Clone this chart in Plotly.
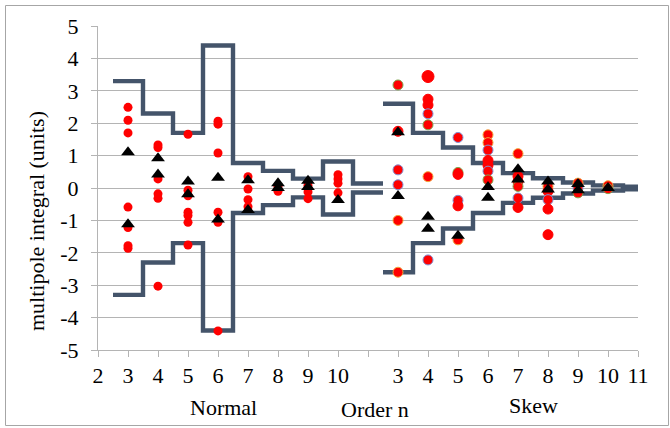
import plotly.graph_objects as go

# ---------------- data ----------------
tick_vals = list(range(2, 21))
tick_text = ["2", "3", "4", "5", "6", "7", "8", "9", "10", "",
             "3", "4", "5", "6", "7", "8", "9", "10", "11"]
y_tick_vals = [-5, -4, -3, -2, -1, 0, 1, 2, 3, 4, 5]
y_tick_text = ["-5", "-4", "-3", "-2", "-1", "0", "1", "2", "3", "4", "5"]
skew_offset = 9  # skew order n is drawn at n + 9

# tolerance band (half-width) per order
normal_band_orders = [3, 4, 5, 6, 7, 8, 9, 10, 11]
normal_band_limits = [3.3, 2.3, 1.7, 4.4, 0.77, 0.53, 0.29, 0.82, 0.14]
skew_band_orders = [3, 4, 5, 6, 7, 8, 9, 10, 11]
skew_band_limits = [2.6, 1.7, 1.25, 0.77, 0.46, 0.3, 0.17, 0.08, 0.04]

# measured normal multipoles (circles)
normal_pts_order = [3, 3, 3, 3, 3, 3, 3,
                    4, 4, 4, 4, 4, 4,
                    5, 5, 5, 5, 5, 5, 5,
                    6, 6, 6, 6, 6, 6,
                    7, 7, 7, 7,
                    8, 8,
                    9, 9, 9,
                    10, 10, 10, 10]
normal_pts_value = [2.49, 2.09, 1.70, -0.59, -1.22, -1.78, -1.86,
                    1.33, 1.25, 0.28, -0.18, -0.32, -3.03,
                    1.66, -0.07, -0.24, -0.75, -0.85, -1.06, -1.76,
                    2.06, 1.97, 1.08, -0.75, -1.06, -4.41,
                    0.35, -0.03, -0.36, -0.58,
                    0.05, -0.10,
                    0.08, -0.12, -0.33,
                    0.41, 0.28, 0.15, -0.15]

# reference normal multipoles (triangles)
normal_ref_order = [3, 3, 4, 4, 5, 5, 6, 6, 7, 7, 8, 8, 9, 9, 10]
normal_ref_value = [1.10, -1.12, 0.92, 0.42, 0.20, -0.19, 0.32, -0.97,
                    0.24, -0.68, 0.15, 0.0, 0.22, 0.03, -0.37]

# measured skew multipoles (circles) and the outline of each
skew_pts_order = [3, 3, 3, 3, 3, 3,
                  4, 4, 4, 4, 4, 4, 4,
                  5, 5, 5, 5, 5, 5,
                  6, 6, 6, 6, 6, 6, 6,
                  7, 7, 7, 7, 7, 7,
                  8, 8, 8, 8, 8,
                  9, 9, 9,
                  10, 10]
skew_pts_value = [3.18, 1.75, 0.56, 0.10, -1.00, -2.60,
                  3.44, 2.74, 2.56, 2.29, 1.95, 0.35, -2.22,
                  1.56, 0.48, 0.42, -0.38, -0.55, -1.60,
                  1.64, 1.40, 1.17, 0.85, 0.70, 0.52, 0.25,
                  1.06, 0.36, 0.20, 0.05, -0.31, -0.60,
                  0.05, -0.10, -0.36, -0.65, -1.44,
                  0.15, 0.00, -0.15,
                  0.07, -0.02]
skew_pts_edge = ["g", "r", "b", "b", "o", "o",
                 "r", "r", "r", "b", "g", "o", "b",
                 "b", "g", "r", "b", "r", "o",
                 "o", "o", "b", "r", "r", "b", "g",
                 "o", "r", "r", "g", "b", "r",
                 "o", "r", "b", "r", "r",
                 "o", "b", "g",
                 "o", "g"]

# reference skew multipoles (triangles)
skew_ref_order = [3, 3, 4, 4, 5, 6, 6, 7, 7, 8, 8, 9, 9, 10]
skew_ref_value = [1.72, -0.25, -0.89, -1.26, -1.47, 0.03, -0.30,
                  0.58, 0.26, 0.20, -0.05, 0.12, -0.07, 0.00]

# ---------------- styles ----------------
FONT = "Liberation Serif"
BAND_COLOR = "#44546A"
GRID = "#B4B4B4"
edge_map = {"r": "#FF0000", "b": "#7F93D6", "g": "#7FA650", "o": "#F2A53C"}


def band_steps(orders, limits, offset, sign):
    xs = [o + offset - 0.5 for o in orders] + [orders[-1] + offset + 0.5]
    ys = [sign * v for v in limits] + [sign * limits[-1]]
    return xs, ys


fig = go.Figure()

for orders, limits, off in [(normal_band_orders, normal_band_limits, 0),
                            (skew_band_orders, skew_band_limits, skew_offset)]:
    for s in (1, -1):
        xs, ys = band_steps(orders, limits, off, s)
        fig.add_trace(go.Scatter(x=xs, y=ys, mode="lines", line_shape="hv",
                                 line=dict(color=BAND_COLOR, width=4.4),
                                 hoverinfo="skip", showlegend=False))

fig.add_trace(go.Scatter(
    x=normal_pts_order, y=normal_pts_value, mode="markers",
    marker=dict(symbol="circle", size=9, color="#FF0000", opacity=1, line=dict(width=0)),
    showlegend=False))

skew_sizes = [12 if v > 3.3 else 10 for v in skew_pts_value]
fig.add_trace(go.Scatter(
    x=[o + skew_offset for o in skew_pts_order], y=skew_pts_value, mode="markers",
    marker=dict(symbol="circle", size=skew_sizes, color="#FF0000", opacity=1,
                line=dict(width=1, color=[edge_map[e] for e in skew_pts_edge])),
    showlegend=False))

fig.add_trace(go.Scatter(
    x=normal_ref_order, y=normal_ref_value, mode="markers",
    marker=dict(symbol="triangle-up", size=12, color="black", opacity=1, line=dict(width=0)),
    showlegend=False))
fig.add_trace(go.Scatter(
    x=[o + skew_offset for o in skew_ref_order], y=skew_ref_value, mode="markers",
    marker=dict(symbol="triangle-up", size=12, color="black", opacity=1, line=dict(width=0)),
    showlegend=False))

fig.update_layout(
    width=670, height=428,
    margin=dict(l=98, r=32, t=26, b=78),
    paper_bgcolor="white", plot_bgcolor="white",
    font=dict(family=FONT, size=22, color="black"),
    xaxis=dict(range=[2, 20], tickmode="array", tickvals=tick_vals, ticktext=tick_text,
               showgrid=False, zeroline=False, showline=True, linecolor=GRID, linewidth=1,
               ticks="outside", ticklen=6, tickcolor=GRID,
               tickfont=dict(family=FONT, size=22, color="black")),
    yaxis=dict(range=[-5, 5], tickmode="array", tickvals=y_tick_vals, ticktext=y_tick_text,
               showgrid=True, gridcolor=GRID, gridwidth=1,
               zeroline=False, showline=True, linecolor=GRID, linewidth=1,
               ticks="outside", ticklen=6, tickcolor=GRID, ticklabelstandoff=8,
               tickfont=dict(family=FONT, size=22, color="black")),
    shapes=[dict(type="rect", xref="paper", yref="paper",
                 x0=(5.5 - 98) / 540, x1=(668.5 - 98) / 540,
                 y0=(350 - 425.5) / 324, y1=(350 - 5.5) / 324,
                 line=dict(color="#A6A6A6", width=1), layer="below")],
    annotations=[
        dict(text="multipole integral (units)", xref="paper", yref="paper",
             x=(36 - 98) / 540, y=(350 - 221) / 324, textangle=-90,
             showarrow=False, xanchor="center", yanchor="middle",
             font=dict(family=FONT, size=22)),
        dict(text="Normal", xref="paper", yref="paper", x=(223 - 98) / 540,
             y=(350 - 407) / 324, showarrow=False, xanchor="center", yanchor="middle"),
        dict(text="Order n", xref="paper", yref="paper", x=(375 - 98) / 540,
             y=(350 - 409) / 324, showarrow=False, xanchor="center", yanchor="middle"),
        dict(text="Skew", xref="paper", yref="paper", x=(533 - 98) / 540,
             y=(350 - 406) / 324, showarrow=False, xanchor="center", yanchor="middle"),
    ],
)

fig.write_html("out.html", config={"displayModeBar": False},
               post_script="document.body.style.margin='0';")
